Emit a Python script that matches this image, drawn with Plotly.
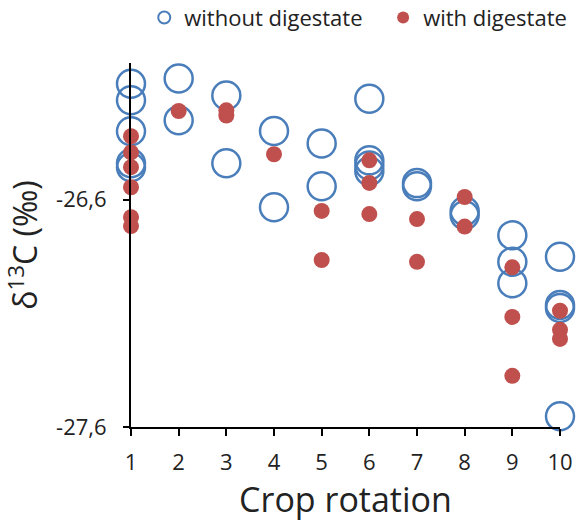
import plotly.graph_objects as go

# Data
x_without = [1, 1, 1, 1, 1, 2, 2, 3, 3, 4, 4, 5, 5, 6, 6, 6, 6, 7, 7, 8, 8, 9, 9, 9, 10, 10, 10, 10]
y_without = [-26.091, -26.164, -26.300, -26.441, -26.458,
             -26.068, -26.252,
             -26.143, -26.441,
             -26.299, -26.634,
             -26.354, -26.542,
             -26.157, -26.428, -26.450, -26.476,
             -26.528, -26.542,
             -26.651, -26.669,
             -26.757, -26.874, -26.968,
             -26.852, -27.064, -27.077, -27.553]

x_with = [1, 1, 1, 1, 1, 1, 2, 3, 3, 4, 5, 5, 6, 6, 6, 7, 7, 8, 8, 9, 9, 9, 10, 10, 10]
y_with = [-26.322, -26.393, -26.458, -26.546, -26.678, -26.717,
          -26.211,
          -26.208, -26.231,
          -26.401,
          -26.650, -26.866,
          -26.428, -26.527, -26.664,
          -26.686, -26.874,
          -26.589, -26.719,
          -26.898, -27.116, -27.375,
          -27.089, -27.173, -27.213]

x_ticks = [1, 2, 3, 4, 5, 6, 7, 8, 9, 10]
y_tickvals = [-27.6, -26.6]
y_ticktext = ["-27,6", "-26,6"]

FONT = "'Open Sans', Lato, sans-serif"
BLUE = "#4A7EBB"
RED = "#C0504D"

fig = go.Figure()
fig.add_trace(go.Scatter(
    x=x_without, y=y_without, mode="markers", name="without digestate",
    cliponaxis=False, legend="legend",
    marker=dict(symbol="circle", size=28, color="rgba(0,0,0,0)",
                line=dict(color=BLUE, width=2.5)),
))
fig.add_trace(go.Scatter(
    x=x_with, y=y_with, mode="markers", name="with digestate",
    cliponaxis=False, legend="legend2",
    marker=dict(symbol="circle", size=16, color=RED, line=dict(width=0)),
))

legend_common = dict(orientation="h", xanchor="left", yanchor="middle",
                     xref="container", yref="container", y=0.966,
                     font=dict(size=22), itemsizing="constant",
                     bgcolor="rgba(0,0,0,0)")

fig.update_layout(
    width=577, height=522,
    margin=dict(l=131, r=17, t=63, b=95),
    paper_bgcolor="white", plot_bgcolor="white",
    font=dict(family=FONT, size=22, color="#222222"),
    showlegend=True,
    legend=dict(x=0.25, **legend_common),
    legend2=dict(x=0.664, **legend_common),
    xaxis=dict(range=[1, 10], tickvals=x_ticks, showgrid=False, zeroline=False,
               automargin=False,
               showline=True, linecolor="black", linewidth=2,
               ticks="outside", ticklen=7, tickwidth=2, tickcolor="black",
               tickfont=dict(size=22), ticklabelstandoff=8,
               title=dict(text="Crop rotation", font=dict(size=34), standoff=6)),
    yaxis=dict(range=[-27.6, -26.0], tickvals=y_tickvals, ticktext=y_ticktext,
               showgrid=False, zeroline=False, automargin=False,
               showline=True, linecolor="black", linewidth=2,
               ticks="outside", ticklen=6, tickwidth=2, tickcolor="black",
               tickfont=dict(size=22), ticklabelstandoff=12,
               title=dict(text="δ<sup>13</sup>C (‰)", font=dict(size=32), standoff=10)),
)

fig.write_html("out.html", config={"displayModeBar": False},
               post_script="document.body.style.margin='0';document.body.style.overflow='hidden';")
